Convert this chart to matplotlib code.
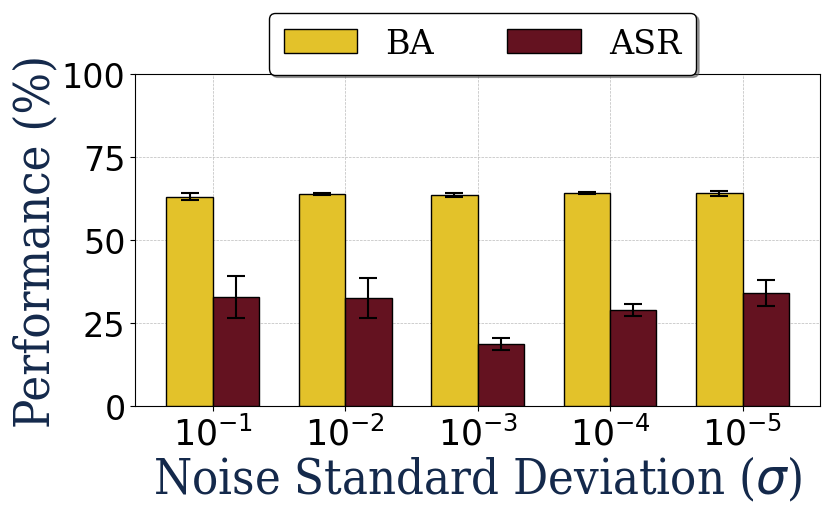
import numpy as np
import matplotlib
matplotlib.use("Agg")
import matplotlib.pyplot as plt

# values
sigmas = [r"$10^{-1}$", r"$10^{-2}$", r"$10^{-3}$", r"$10^{-4}$", r"$10^{-5}$"]
ba_mean = [63.0, 63.8, 63.5, 64.1, 64.0]
ba_std = [1.0, 0.3, 0.6, 0.2, 0.8]
asr_mean = [32.8, 32.5, 18.7, 28.9, 34.0]
asr_std = [6.4, 6.0, 1.8, 1.9, 3.8]

ba_color = "#E3C22A"
asr_color = "#641220"
label_color = "#14294B"

fig = plt.figure(figsize=(8.3, 5.1), dpi=100)
ax = fig.add_axes([0.163, 0.202, 0.825, 0.651])

x = np.arange(len(sigmas))
w = 0.35
err_kw = dict(capsize=6.5, elinewidth=1.5, capthick=1.5, ecolor="black")
ax.bar(x - w/2, ba_mean, w, yerr=ba_std, color=ba_color, edgecolor="black",
       linewidth=1, label="BA", error_kw=err_kw, zorder=3)
ax.bar(x + w/2, asr_mean, w, yerr=asr_std, color=asr_color, edgecolor="black",
       linewidth=1, label="ASR", error_kw=err_kw, zorder=3)

ax.set_ylim(0, 100)
ax.set_yticks([0, 25, 50, 75, 100])
ax.set_xticks(x)
ax.set_xticklabels(sigmas)
ax.tick_params(axis="y", labelsize=24)
ax.tick_params(axis="x", labelsize=25)
ax.grid(True, linestyle="--", linewidth=0.5, color="#bbbbbb", zorder=0)

serif = dict(family="DejaVu Serif", stretch="condensed", color=label_color)
ax.set_ylabel("Performance (%)", fontsize=35, labelpad=2, **serif)
ax.set_xlabel(r"Noise Standard Deviation ($\sigma$)", fontsize=35, labelpad=2, **serif)

leg = ax.legend(loc="upper center", bbox_to_anchor=(0.507, 1.235), ncol=2,
                fancybox=True, shadow=True, edgecolor="black", framealpha=1,
                prop=dict(family="DejaVu Serif", size=24),
                handlelength=2.2, columnspacing=2.2, handletextpad=0.85,
                borderpad=0.45)

fig.savefig("out.png", dpi=100)
